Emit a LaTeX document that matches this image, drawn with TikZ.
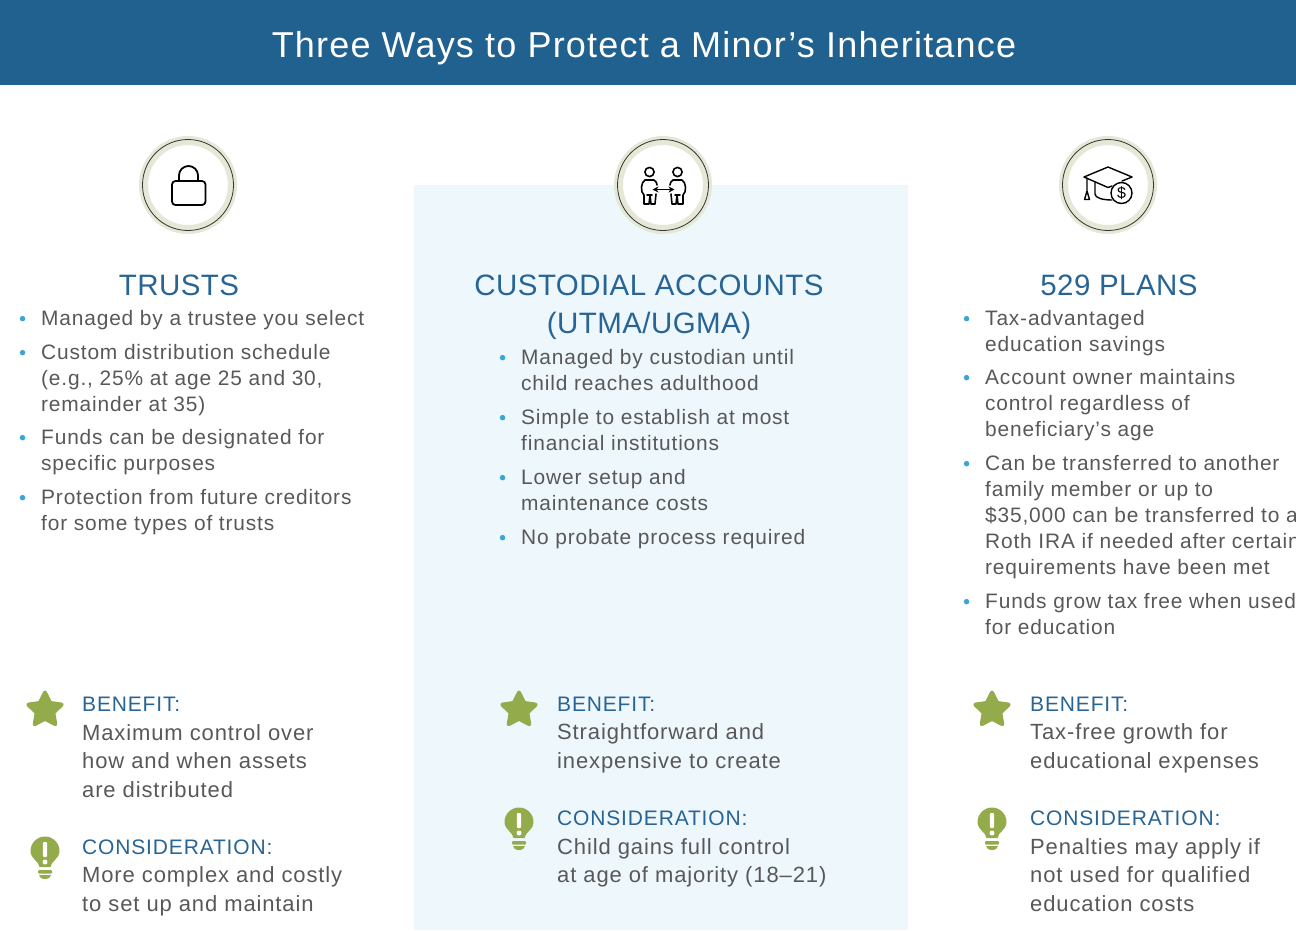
\documentclass[tikz,border=0pt]{standalone}
\usepackage{fontspec}
\setmainfont{Liberation Sans}[LetterSpace=4]
\usetikzlibrary{positioning,shapes.geometric,arrows.meta}
\definecolor{wmblue}{RGB}{33,97,143}
\definecolor{wmhead}{RGB}{40,100,148}
\definecolor{wmpanel}{RGB}{238,247,252}
\definecolor{wmgreen}{RGB}{148,171,75}
\definecolor{wmring}{RGB}{229,232,214}
\definecolor{wmdot}{RGB}{58,166,208}
\definecolor{wmtext}{RGB}{88,88,88}
\tikzstyle{coltitle} = [inner sep=0pt, anchor=base, align=center, text=wmhead, font=\addfontfeature{LetterSpace=1.5}\fontsize{29.5}{38}\selectfont]
\tikzstyle{itemtext} = [inner sep=0pt, anchor=base west, align=left, text=wmtext, font=\fontsize{20.9}{26}\selectfont]
\tikzstyle{notetext} = [inner sep=0pt, anchor=base west, align=left, text=wmtext, font=\fontsize{22}{28.5}\selectfont]
\tikzstyle{bulletdot} = [circle, inner sep=0pt, minimum size=5.5pt, fill=wmdot]
\tikzstyle{ring} = [circle, inner sep=0pt, minimum size=89pt, draw=wmring, line width=9pt, fill=white]
\tikzstyle{icon} = [black, line width=1.8pt, line join=round, line cap=round]
\newcommand{\notehead}[1]{\textcolor{wmhead}{\fontsize{21}{28.5}\selectfont #1}}
\tikzset{
  pics/benefitstar/.style={code={
    \node [star, star points=5, star point ratio=2.0, minimum size=35pt, inner sep=0pt, fill=wmgreen, draw=wmgreen, line width=4pt, line join=round] {};
  }},
  pics/considerbulb/.style={code={
    \fill [wmgreen] (-5.5,15) .. controls (-6,9) and (-14.5,7) .. (-14.5,-1) arc (180:360:14.5) .. controls (14.5,7) and (6,9) .. (5.5,15) -- cycle;
    \fill [wmgreen, rounded corners=1pt] (-7,18) rectangle (7,21.5);
    \fill [wmgreen] (-6,23) -- (6,23) arc (0:180:6 and 4) -- cycle;
    \fill [white, rounded corners=1pt] (-2.2,-10) rectangle (2.2,5);
    \fill [white] (0,10) circle (2.5);
  }}
}
\begin{document}
\begin{tikzpicture}[x=1pt,y=-1pt]
\useasboundingbox (0,0) rectangle (1296,930);

% Banner and middle panel
\node (banner) [rectangle, anchor=north west, minimum width=1296pt, minimum height=85pt, inner sep=0pt, fill=wmblue] at (0,0) {};
\node (panel) [rectangle, anchor=north west, minimum width=494pt, minimum height=745pt, inner sep=0pt, fill=wmpanel] at (414,185) {};
\node (headline) [text=white, anchor=base, inner sep=0pt, font=\addfontfeature{LetterSpace=3.3}\fontsize{36}{40}\selectfont] at (644,57) {Three Ways to Protect a Minor’s Inheritance};

% Icons
\node (ringtrust) [ring] at (188,185) {};
\node (ringcust) [ring] at (663,185) {};
\node (ringplan) [ring] at (1108,185) {};
\foreach \r in {ringtrust,ringcust,ringplan}
  \draw [line width=0.8pt, black!80] (\r) circle (45.5);

% Lock
\draw [icon, rounded corners=3.5pt] (172,181) rectangle (205.5,205);
\draw [icon] (179,181) -- (179,175.5) arc (180:360:9.5 and 9.5) -- (198,181);

% People
\draw [icon, line width=1.6pt] (649.5,172) circle (4.6) (677.5,172) circle (4.6);
\draw [icon, line width=1.6pt] (644,204) -- (644,195) .. controls (640,192) and (641,182) .. (645,180) -- (654,180) .. controls (656,181) and (657,183) .. (657,185) (656,194) -- (655,204) -- (651,204) -- (650,195) -- (649,204) -- (644,204) (652,195) -- (647,195);
\draw [icon, line width=1.6pt] (683,204) -- (683,195) .. controls (687,192) and (686,182) .. (682,180) -- (673,180) .. controls (671,181) and (670,183) .. (670,185) (671,194) -- (672,204) -- (676,204) -- (677,195) -- (678,204) -- (683,204) (675,195) -- (680,195);
\draw [icon, line width=1.3pt, {Stealth[length=6pt,width=6pt]}-{Stealth[length=6pt,width=6pt]}] (652.5,189.5) -- (674.5,189.5);

% Cap and coin
\draw [icon, line width=1.4pt] (1084,177) -- (1108,167) -- (1132,177) -- (1122,181) (1112,186) -- (1108,187.5) -- (1084,177);
\draw [icon, line width=1.4pt] (1095,182) -- (1095,194) .. controls (1095,198) and (1103,200) .. (1112,200);
\draw [icon, line width=1.4pt] (1087,178) -- (1087,191) (1087,191) -- (1084.5,199.5) -- (1089.5,199.5) -- cycle;
\draw [icon, line width=1.4pt] (1121.5,193) circle (10.5);
\node (coin) [inner sep=0pt, text=black, font=\fontsize{16}{16}\selectfont] at (1121.5,193) {\$};

% Trusts column
\node (trusts) [coltitle] at (179,295) {TRUSTS};
\node (tone) [itemtext] at (41,325) {Managed by a trustee you select};
\node (ttwo) [itemtext] at (41,411) {Custom distribution schedule\\(e.g., 25\% at age 25 and 30,\\remainder at 35)};
\node (tthree) [itemtext] at (41,470) {Funds can be designated for\\specific purposes};
\node (tfour) [itemtext] at (41,530) {Protection from future creditors\\for some types of trusts};

% Custodial column
\node (custodial) [coltitle] at (649,333) {CUSTODIAL ACCOUNTS\\(UTMA/UGMA)};
\node (cone) [itemtext] at (521,390) {Managed by custodian until\\child reaches adulthood};
\node (ctwo) [itemtext] at (521,450) {Simple to establish at most\\financial institutions};
\node (cthree) [itemtext] at (521,510) {Lower setup and\\maintenance costs};
\node (cfour) [itemtext] at (521,544) {No probate process required};

% 529 column
\node (plans) [coltitle] at (1119,295) {529 PLANS};
\node (pone) [itemtext] at (985,351) {Tax-advantaged\\education savings};
\node (ptwo) [itemtext] at (985,436) {Account owner maintains\\control regardless of\\beneficiary’s age};
\node (pthree) [itemtext] at (985,574) {Can be transferred to another\\family member or up to\\\$35,000 can be transferred to a\\Roth IRA if needed after certain\\requirements have been met};
\node (pfour) [itemtext] at (985,634) {Funds grow tax free when used\\for education};

% Bullets
\foreach \n in {tone,ttwo,tthree,tfour,cone,ctwo,cthree,cfour,pone,ptwo,pthree,pfour}
  \node (dot\n) [bulletdot, left=15.5pt of \n.north west, yshift=-9pt] {};

% Benefit and consideration notes
\node (bentrust) [notetext] at (82,797) {\notehead{BENEFIT:}\\Maximum control over\\how and when assets\\are distributed};
\node (contrust) [notetext] at (82,911) {\notehead{CONSIDERATION:}\\More complex and costly\\to set up and maintain};
\node (bencust) [notetext] at (557,768) {\notehead{BENEFIT:}\\Straightforward and\\inexpensive to create};
\node (concust) [notetext] at (557,882.5) {\notehead{CONSIDERATION:}\\Child gains full control\\at age of majority (18–21)};
\node (benplan) [notetext] at (1030,768) {\notehead{BENEFIT:}\\Tax-free growth for\\educational expenses};
\node (conplan) [notetext] at (1030,911) {\notehead{CONSIDERATION:}\\Penalties may apply if\\not used for qualified\\education costs};

% Star and bulb marks
\pic at (45,710) {benefitstar};
\pic at (519,710) {benefitstar};
\pic at (992,710) {benefitstar};
\pic at (45,852) {considerbulb};
\pic at (519,823) {considerbulb};
\pic at (992,823) {considerbulb};
\end{tikzpicture}
\end{document}
